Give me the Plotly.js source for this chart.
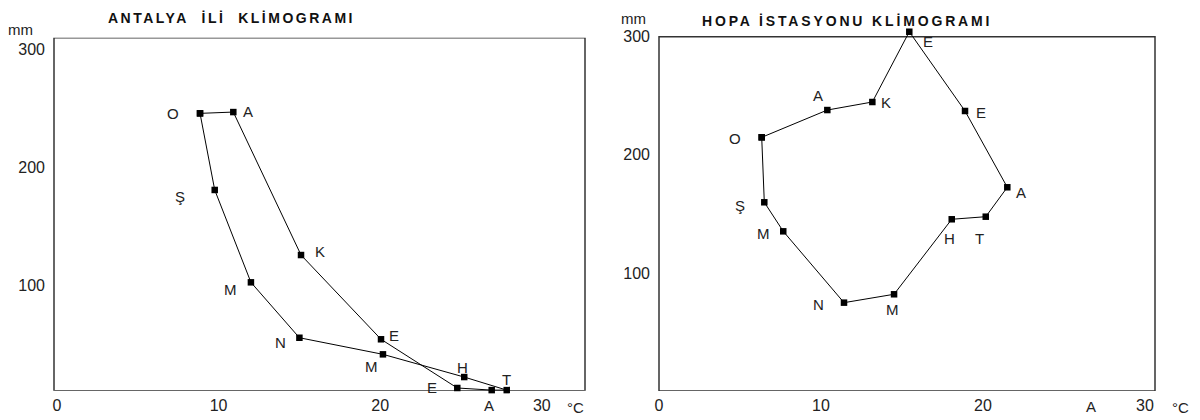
<!DOCTYPE html>
<html>
<head>
<meta charset="utf-8">
<script src="https://cdn.plot.ly/plotly-3.0.1.min.js"></script>
<style>
  html, body { margin: 0; padding: 0; background: #fff; }
  #chart { width: 1200px; height: 420px; }
</style>
</head>
<body>
<div id="chart"></div>
<script>
// ---- data ----
const monthLabels = ['O', 'Ş', 'M', 'N', 'M', 'H', 'T', 'A', 'E', 'E', 'K', 'A'];

const antalyaTemp = [8.85, 9.76, 12.0, 15.0, 20.17, 25.2, 27.83, 26.9, 24.77, 20.05, 15.1, 10.91];
const antalyaRain = [235.7, 170.6, 92.1, 45.0, 30.9, 11.6, 0.5, 0.5, 2.3, 43.7, 115.3, 236.8];

const hopaTemp = [6.34, 6.5, 7.67, 11.42, 14.51, 18.07, 20.17, 21.5, 18.89, 15.45, 13.17, 10.39];
const hopaRain = [214.8, 159.8, 135.2, 74.8, 81.9, 145.4, 147.6, 172.5, 237.1, 304.2, 244.7, 237.9];

const xTickVals = [0, 10, 20, 30];
const xTickText = ['0', '10', '20', '30'];
const yTickVals = [100, 200, 300];
const yTickText = ['100', '200', '300'];

const titleLeft = 'ANTALYA\u00a0\u00a0İLİ\u00a0\u00a0KLİMOGRAMI';
const titleRight = 'HOPA İSTASYONU KLİMOGRAMI';
const unitY = 'mm';
const unitX = '°C';
const strayLabel = 'A';
const strayLabelTemp = 26.65;
const frameTop = 300;   // top of the drawn frame, mm

// ---- styling ----
const W = 1200, H = 420;
const FONT = 'Liberation Sans, Arial, sans-serif';
const TXT = '#222';
const px = x => x / W;
const py = y => 1 - y / H;

// label offsets (pixels) for each month label
const leftOffsets = [[-27,0],[-35,-7],[-20,-7],[-19,-5],[-11,-12],[-2,10],[0,11],[-3,-15],[-25,0],[13,4],[19,4],[15,1]];
const rightOffsets = [[-27,-1],[-24,-3],[-20,-2],[-26,-2],[-2,-15],[-2,-19],[-6,-22],[14,-5],[16,-2],[19,-10],[14,0],[-9,15]];

function loop(a) { return a.concat([a[0]]); }

function trace(t, r, xa, ya) {
  return {
    type: 'scatter', mode: 'lines+markers',
    x: loop(t), y: loop(r), xaxis: xa, yaxis: ya,
    line: { color: '#000', width: 1 },
    marker: { symbol: 'square', size: 6.5, color: '#000' },
    cliponaxis: false, hoverinfo: 'skip'
  };
}

const data = [
  trace(antalyaTemp, antalyaRain, 'x', 'y'),
  trace(hopaTemp, hopaRain, 'x2', 'y2')
];

const annotations = [];
function addLabels(t, r, offs, xr, yr) {
  for (let i = 0; i < monthLabels.length; i++) {
    annotations.push({
      x: t[i], y: r[i], xref: xr, yref: yr, text: monthLabels[i],
      showarrow: false, xshift: offs[i][0], yshift: offs[i][1],
      xanchor: 'center', yanchor: 'middle',
      font: { family: FONT, size: 15, color: TXT }
    });
  }
}
addLabels(antalyaTemp, antalyaRain, leftOffsets, 'x', 'y');
addLabels(hopaTemp, hopaRain, rightOffsets, 'x2', 'y2');

function txt(text, x, y, size, extra) {
  return Object.assign({
    x: px(x), y: py(y), xref: 'paper', yref: 'paper', text: text,
    showarrow: false, xanchor: 'center', yanchor: 'middle',
    font: { family: FONT, size: size, color: TXT }
  }, extra || {});
}
annotations.push(txt('<b><span style="letter-spacing:2.5px">' + titleLeft + '</span></b>', 106, 18, 14, { xanchor: 'left', font: { family: FONT, size: 14, color: '#111' } }));
annotations.push(txt('<b><span style="letter-spacing:2.85px">' + titleRight + '</span></b>', 700, 21, 14, { xanchor: 'left', font: { family: FONT, size: 14, color: '#111' } }));
annotations.push(txt(unitY, 20, 30, 15));
annotations.push(txt(unitY, 633, 19, 15));
annotations.push(txt(unitX, 575, 407, 15));
annotations.push(txt(unitX, 1180, 407, 15));
annotations.push({
  x: strayLabelTemp, y: py(406), xref: 'x2', yref: 'paper', text: strayLabel,
  showarrow: false, xanchor: 'center', yanchor: 'middle',
  font: { family: FONT, size: 15, color: TXT }
});

function xAxis(domain, range, anchor) {
  return {
    domain: domain, range: range, anchor: anchor,
    tickmode: 'array', tickvals: xTickVals, ticktext: xTickText,
    showline: false, showgrid: false, zeroline: false, ticks: '', ticklabelstandoff: 3,
    tickfont: { family: FONT, size: 16, color: TXT }, fixedrange: true
  };
}
function yAxis(domain, range, anchor, shift) {
  return {
    domain: domain, range: range, anchor: anchor,
    tickmode: 'array', tickvals: yTickVals, ticktext: yTickText,
    showline: false, showgrid: false, zeroline: false, ticks: '', ticklabelstandoff: 8,
    ticklabelshift: shift,
    tickfont: { family: FONT, size: 16, color: TXT }, fixedrange: true
  };
}

// right panel: 300 mm sits at 36.7 px, bottom at 391 px; range a bit higher so the October point shows
const rScale = (391 - 36.7) / 300;
const rTop = 312;

const shapes = [
  { type: 'rect', xref: 'x domain', yref: 'y', x0: 0, x1: 1, y0: 0, y1: frameTop,
    line: { color: '#333', width: 1.5 }, layer: 'below' },
  { type: 'rect', xref: 'x2 domain', yref: 'y2', x0: 0, x1: 1, y0: 0, y1: frameTop,
    line: { color: '#333', width: 1.5 }, layer: 'below' }
];

const layout = {
  width: W, height: H,
  margin: { l: 0, r: 0, t: 0, b: 0 },
  paper_bgcolor: '#fff', plot_bgcolor: '#fff',
  showlegend: false,
  xaxis: xAxis([px(54), px(585)], [-3 / 16.16, (585 - 57) / 16.16], 'y'),
  yaxis: yAxis([py(390.7), py(37.7)], [0, 300], 'x', 12),
  xaxis2: xAxis([px(659), px(1155)], [0, 496 / 16.2], 'y2'),
  yaxis2: yAxis([py(391), py(391 - rTop * rScale)], [0, rTop], 'x2', 0),
  shapes: shapes,
  annotations: annotations
};

Plotly.newPlot('chart', data, layout, { displayModeBar: false, staticPlot: true });
</script>
</body>
</html>
